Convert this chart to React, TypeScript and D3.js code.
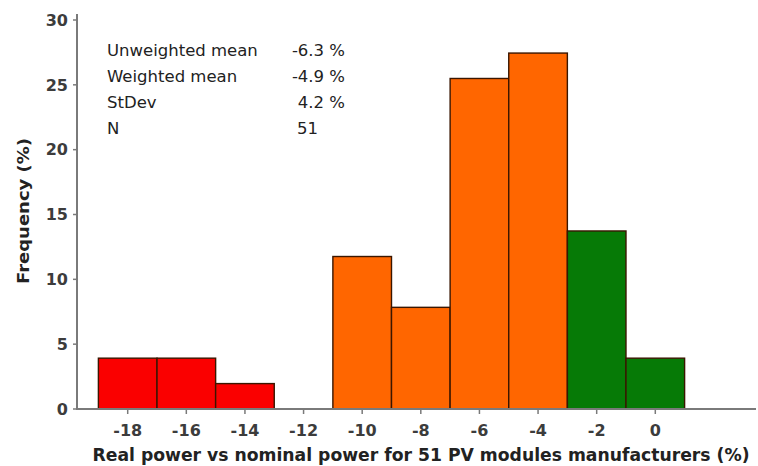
import React from "react";
import * as d3 from "d3";

const binCenters = [-18, -16, -14, -12, -10, -8, -6, -4, -2, 0];
const frequencies = [3.92, 3.92, 1.96, 0, 11.76, 7.84, 25.49, 27.45, 13.73, 3.92];
const binColors = ["#fa0000", "#fa0000", "#fa0000", "#fa0000", "#ff6600", "#ff6600", "#ff6600", "#ff6600", "#067a06", "#067a06"];
const xTicks = [-18, -16, -14, -12, -10, -8, -6, -4, -2, 0];
const yTicks = [0, 5, 10, 15, 20, 25, 30];
const statLabels = ["Unweighted mean", "Weighted mean", "StDev", "N"];
const statValues = ["-6.3 %", "-4.9 %", "4.2 %", "51"];
const xTitle = "Real power vs nominal power for 51 PV modules manufacturers (%)";
const yTitle = "Frequency  (%)";

const W = 758;
const H = 466;
const BIN = 2;

export default function App() {
  const x = d3.scaleLinear().domain([-18, 0]).range([127.7, 655.3]);
  const y = d3.scaleLinear().domain([0, 30]).range([409, 20]);
  const axisColor = "#7a7a7a";
  const tickColor = "#3c3c3c";
  const font = "'DejaVu Sans', Verdana, sans-serif";

  return (
    <svg width={W} height={H} style={{ position: "absolute", left: 0, top: 0, background: "#fff" }} fontFamily={font}>
      {/* bars */}
      {binCenters.map((c, i) =>
        frequencies[i] > 0 ? (
          <rect
            key={i}
            x={x(c - BIN / 2)}
            y={y(frequencies[i])}
            width={x(c + BIN / 2) - x(c - BIN / 2)}
            height={y(0) - y(frequencies[i])}
            fill={binColors[i]}
            stroke="#3a1600"
            strokeWidth={1.4}
          />
        ) : null
      )}
      {/* axes */}
      <line x1={77} x2={756} y1={y(0)} y2={y(0)} stroke={axisColor} strokeWidth={2} />
      <line x1={77} x2={77} y1={y(0) + 1} y2={14} stroke={axisColor} strokeWidth={2} />
      {yTicks.map((t) => (
        <g key={"y" + t}>
          <line x1={73} x2={77} y1={y(t)} y2={y(t)} stroke={axisColor} strokeWidth={1.5} />
          <text x={68} y={y(t)} dy="0.36em" textAnchor="end" fontSize={16} fontWeight="bold" fill={tickColor}>
            {t}
          </text>
        </g>
      ))}
      {xTicks.map((t) => (
        <g key={"x" + t}>
          <line x1={x(t)} x2={x(t)} y1={y(0)} y2={y(0) + 5} stroke={axisColor} strokeWidth={1.5} />
          <text x={x(t)} y={436} textAnchor="middle" fontSize={16} fontWeight="bold" fill={tickColor}>
            {t}
          </text>
        </g>
      ))}
      {/* titles */}
      <text x={421} y={461} textAnchor="middle" fontSize={17} fontWeight="bold" fill="#222" textLength={657} lengthAdjust="spacingAndGlyphs">
        {xTitle}
      </text>
      <text
        transform={`translate(29, 211) rotate(-90)`}
        textAnchor="middle"
        fontSize={16}
        fontWeight="bold"
        fill="#222"
        textLength={146}
        lengthAdjust="spacingAndGlyphs"
      >
        {yTitle}
      </text>
      {/* stats */}
      {statLabels.map((s, i) => (
        <g key={"s" + i}>
          <text x={107} y={56 + i * 26} fontSize={16.5} fill="#222">
            {s}
          </text>
          <text x={i === 3 ? 318 : 345} y={56 + i * 26} textAnchor="end" fontSize={16.5} fill="#222">
            {statValues[i]}
          </text>
        </g>
      ))}
    </svg>
  );
}
